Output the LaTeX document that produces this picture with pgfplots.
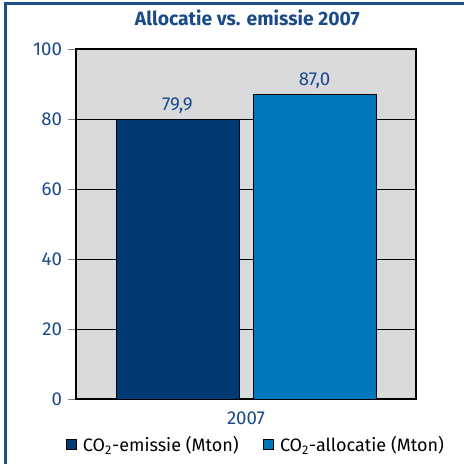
\documentclass[border=0pt]{standalone}
\usepackage{pgfplots}
\pgfplotsset{compat=1.18}
\usepackage{fontspec}
\setmainfont{Fira Sans}
\definecolor{txtblue}{HTML}{1A4A8A}
\definecolor{framebl}{HTML}{1F4E8C}
\definecolor{bardark}{HTML}{003A75}
\definecolor{barlight}{HTML}{0077BD}
\definecolor{bggray}{HTML}{D9DADC}
\begin{document}
\begin{tikzpicture}
\useasboundingbox (0,0) rectangle (348pt,348pt);
% outer frame: left and top only
\draw[framebl, line width=2.2pt] (3.8pt,0) -- (3.8pt,345.2pt) -- (348pt,345.2pt);
\node[text=txtblue, font=\fontsize{14.5}{16}\selectfont\bfseries] at (185.5pt,334.5pt) {Allocatie vs. emissie 2007};
\begin{axis}[
    at={(57pt,48.75pt)}, anchor=south west,
    scale only axis,
    width=255pt, height=262.5pt,
    ybar, bar width=92.25pt,
    xmin=-1, xmax=1,
    ymin=0, ymax=100,
    ytick={0,20,40,60,80,100},
    xtick={0}, xticklabels={2007},
    xtick style={draw=none},
    ytick pos=left, tick align=outside,
    major tick length=6pt,
    ymajorgrids, grid style={black, line width=0.5pt},
    axis line style={black, line width=0.8pt},
    axis background/.style={fill=bggray},
    ticklabel style={text=txtblue, font=\fontsize{14}{16}\selectfont},
    yticklabel style={xshift=-1pt},
    /pgf/number format/assume math mode=true,
    nodes near coords,
    nodes near coords style={text=txtblue, font=\fontsize{14}{16}\selectfont,
        /pgf/number format/fixed, /pgf/number format/fixed zerofill,
        /pgf/number format/precision=1, /pgf/number format/use comma,
        /pgf/number format/assume math mode=true, yshift=1pt},
    legend columns=2,
    legend style={at={(0.53,-0.131)}, anchor=center, draw=none, fill=none,
        font=\fontsize{13.5}{15}\selectfont,
        /tikz/every odd column/.append style={column sep=3pt},
        /tikz/every even column/.append style={column sep=16pt}},
    legend image code/.code={\draw[#1, draw=black, line width=0.4pt] (0pt,-3.5pt) rectangle (7.5pt,4pt);},
]
\addplot[fill=bardark, draw=black, line width=0.6pt, bar shift=-51.4pt] coordinates {(0,79.9)};
\addplot[fill=barlight, draw=black, line width=0.6pt, bar shift=51.4pt] coordinates {(0,87.0)};
\legend{CO\textsubscript{2}-emissie (Mton), CO\textsubscript{2}-allocatie (Mton)}
\end{axis}
\end{tikzpicture}
\end{document}
